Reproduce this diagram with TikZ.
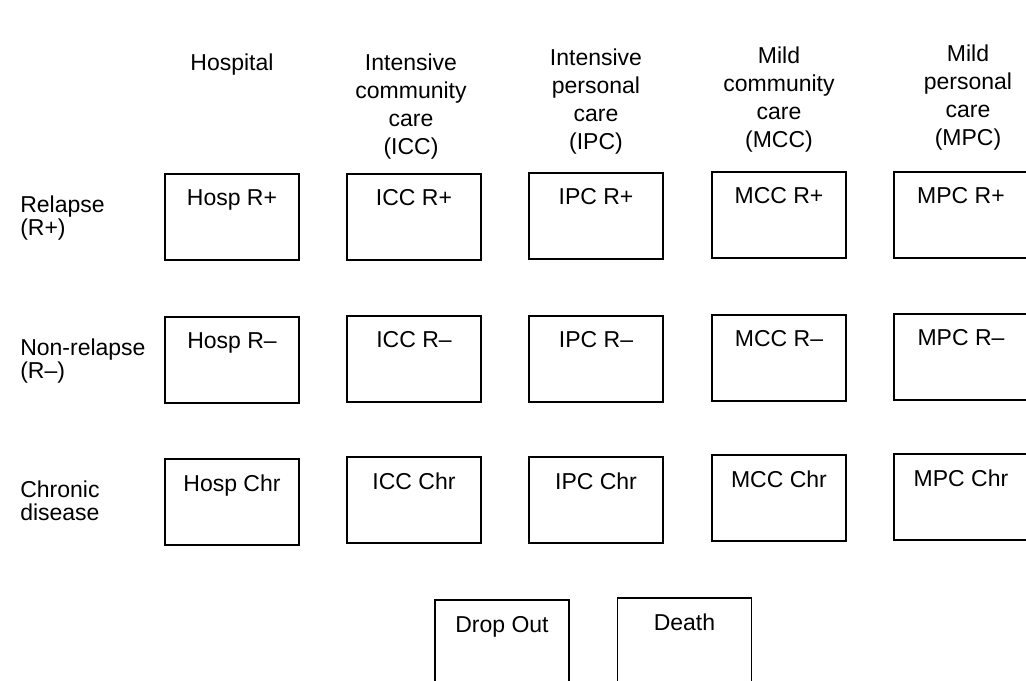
\documentclass[tikz,border=0pt]{standalone}
\usepackage{fontspec}
\setmainfont{Liberation Sans}
\newcommand\myfs{\fontsize{17.25}{21}\selectfont}
\newcommand\myrowfs{\fontsize{17.25}{17.2}\selectfont}
\begin{document}
\begin{tikzpicture}[x=0.75pt,y=-0.75pt,
  cell/.style={draw, line width=1.1pt, minimum width=100.5pt, minimum height=64.5pt,
    inner xsep=0pt, inner ysep=0pt, text height=24pt, text depth=40.5pt, font=\myfs},
  hdr/.style={align=center, anchor=north, inner sep=0pt, font=\myfs},
  rowlab/.style={align=left, anchor=north west, inner sep=0pt, font=\myrowfs}]
\useasboundingbox (0,0) rectangle (1026,681);
\clip (0,0) rectangle (1026,681);
% column headers
\node[hdr] (hHosp) at (232,53.5) {Hospital};
\node[hdr] (hICC) at (411,53.5) {Intensive\\community\\care\\(ICC)};
\node[hdr] (hIPC) at (596,48.5) {Intensive\\personal\\care\\(IPC)};
\node[hdr] (hMCC) at (779,46.5) {Mild\\community\\care\\(MCC)};
\node[hdr] (hMPC) at (968,44.5) {Mild\\personal\\care\\(MPC)};
% row labels
\node[rowlab] (lR) at (20,196) {Relapse\\(R+)};
\node[rowlab] (lN) at (20,339) {Non-relapse\\(R–)};
\node[rowlab] (lC) at (20,481) {Chronic\\disease};
% relapse row
\node[cell] (hospRp) at (232,217) {Hosp R+};
\node[cell] (iccRp) at (414,217) {ICC R+};
\node[cell] (ipcRp) at (596,216) {IPC R+};
\node[cell] (mccRp) at (779,215) {MCC R+};
\node[cell] (mpcRp) at (961,215) {MPC R+};
% non-relapse row
\node[cell] (hospRm) at (232,360) {Hosp R–};
\node[cell] (iccRm) at (414,359) {ICC R–};
\node[cell] (ipcRm) at (596,359) {IPC R–};
\node[cell] (mccRm) at (779,358) {MCC R–};
\node[cell] (mpcRm) at (961,357) {MPC R–};
% chronic row
\node[cell] (hospC) at (232,502) {Hosp Chr};
\node[cell] (iccC) at (414,500) {ICC Chr};
\node[cell] (ipcC) at (596,500) {IPC Chr};
\node[cell] (mccC) at (779,498) {MCC Chr};
\node[cell] (mpcC) at (961,497) {MPC Chr};
% absorbing states
\node[cell] (drop) at (502,643) {Drop Out};
\node[cell] (death) at (684.5,641) {Death};
\end{tikzpicture}
\end{document}
